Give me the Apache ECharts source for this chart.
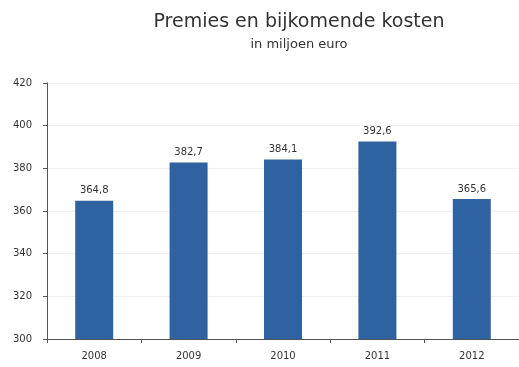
<!DOCTYPE html>
<html>
<head>
<meta charset="utf-8">
<script src="https://cdn.jsdelivr.net/npm/echarts@6/dist/echarts.min.js"></script>
<style>
  html, body { margin: 0; padding: 0; background: #fff; }
  #chart { width: 519px; height: 367px; }
</style>
</head>
<body>
<div id="chart"></div>
<script>
// Premies en bijkomende kosten per jaar (miljoen euro)
const years = ['2008', '2009', '2010', '2011', '2012'];
const premies = [364.8, 382.7, 384.1, 392.6, 365.6];
const yTicks = [300, 320, 340, 360, 380, 400, 420];

const fmt = v => v.toFixed(1).replace('.', ',');
const font = 'DejaVu Sans';

const chart = echarts.init(document.getElementById('chart'), null, { renderer: 'canvas' });
chart.setOption({
  animation: false,
  backgroundColor: '#ffffff',
  title: {
    text: 'Premies en bijkomende kosten',
    subtext: 'in miljoen euro',
    left: 294,
    textAlign: 'center',
    top: 8,
    itemGap: 6,
    textStyle: { fontFamily: font, fontSize: 19, fontWeight: 'normal', color: '#333333' },
    subtextStyle: { fontFamily: font, fontSize: 13, color: '#333333' }
  },
  grid: { left: 47, width: 475, top: 83, height: 256, containLabel: false },
  xAxis: {
    type: 'category',
    data: years,
    axisLine: { lineStyle: { color: '#555555', width: 1 } },
    axisTick: { show: true, alignWithLabel: false, length: 4, lineStyle: { color: '#555555' } },
    axisLabel: { fontFamily: font, fontSize: 10, color: '#333333', margin: 12 }
  },
  yAxis: {
    type: 'value',
    min: yTicks[0],
    max: yTicks[yTicks.length - 1],
    interval: 20,
    axisLine: { show: true, lineStyle: { color: '#555555', width: 1 } },
    axisTick: { show: true, length: 4, lineStyle: { color: '#555555' } },
    axisLabel: { fontFamily: font, fontSize: 10, color: '#333333', margin: 15 },
    splitLine: { show: true, lineStyle: { color: '#f1eeee', width: 1 } }
  },
  series: [{
    type: 'bar',
    data: premies,
    barWidth: 38,
    itemStyle: { color: '#2f62a0' },
    label: {
      show: true,
      position: 'top',
      distance: 5,
      fontFamily: font,
      fontSize: 10,
      color: '#333333',
      formatter: p => fmt(p.value)
    }
  }]
});
</script>
</body>
</html>
